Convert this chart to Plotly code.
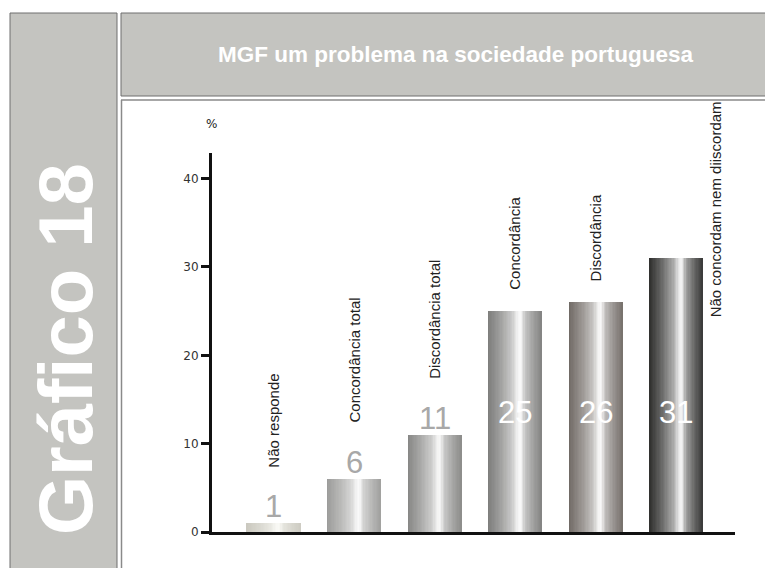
import numpy as np
import plotly.graph_objects as go

# ---- data ----
categories = ["Não responde", "Concordância total", "Discordância total",
              "Concordância", "Discordância", "Não concordam nem diiscordam"]
values = [1, 6, 11, 25, 26, 31]
y_ticks = [0, 10, 20, 30, 40]
title_text = "MGF um problema na sociedade portuguesa"
side_text = "Gráfico 18"

# ---- style ----
OFF = 8  # page body margin
W, H = 773 - OFF, 568 - OFF
L, R, T, B = 212, 735, 153, 532  # plot area in reference pixels
FONT = "Liberation Sans, Arial, sans-serif"
TICKFONT = "DejaVu Sans, Verdana, sans-serif"
edge_cols = [(200, 198, 188), (150, 150, 148), (128, 128, 126),
             (118, 118, 116), (104, 97, 92), (36, 36, 34)]
hi_cols = [(250, 250, 246), (250, 250, 250), (248, 248, 248),
           (250, 250, 250), (250, 250, 250), (245, 245, 245)]
tp = [0.0, 0.25, 0.45, 0.55, 0.6, 0.68, 0.85, 1.0]
gp = [0.05, 0.35, 0.65, 0.95, 1.0, 0.6, 0.3, 0.1]
bw = 0.67
N = 40


def px_x(px):
    return (px - L) / (R - L)


def px_y(py):
    return (B - py) / (B - T)


fig = go.Figure()
x_idx = list(range(len(categories)))
for k in range(N):
    t = (k + 0.5) / N
    g = float(np.interp(t, tp, gp))
    cols = []
    for e, h in zip(edge_cols, hi_cols):
        c = [int(round(e[i] + (h[i] - e[i]) * g)) for i in range(3)]
        cols.append(f"rgb({c[0]},{c[1]},{c[2]})")
    off = -bw / 2 + k * bw / N
    wid = min(bw / N * 1.6, bw / 2 - off)
    fig.add_trace(go.Bar(x=x_idx, y=values, width=wid, offset=off,
                         marker=dict(color=cols, line=dict(width=0)),
                         hoverinfo="skip", showlegend=False))

annotations = []
# value labels
for i, v in enumerate(values):
    if v >= 20:
        annotations.append(dict(x=i, y=13.5, xref="x", yref="y", text=str(v),
                                showarrow=False, yanchor="middle", xanchor="center",
                                font=dict(family=FONT, size=31, color="white")))
    else:
        annotations.append(dict(x=i, y=v, xref="x", yref="y", text=str(v),
                                showarrow=False, yanchor="bottom", xanchor="center",
                                yshift=-3,
                                font=dict(family=FONT, size=31, color="#a8a8a8")))
# category labels
for i, (c, v) in enumerate(zip(categories, values)):
    if i == len(categories) - 1:
        annotations.append(dict(x=i, y=v, xref="x", yref="y", text=c,
                                showarrow=False, textangle=-90, xshift=39,
                                xanchor="center", yanchor="top", yshift=159,
                                font=dict(family=FONT, size=15, color="#222")))
    else:
        ys = 54 if v < 20 else 19
        annotations.append(dict(x=i, y=v, xref="x", yref="y", text=c,
                                showarrow=False, textangle=-90, xanchor="center",
                                yanchor="bottom", yshift=ys,
                                font=dict(family=FONT, size=15, color="#222")))
# % label
annotations.append(dict(x=px_x(211), y=px_y(124), xref="paper", yref="paper",
                        text="%", showarrow=False, xanchor="center", yanchor="middle",
                        font=dict(family=TICKFONT, size=12, color="#222")))
# title
annotations.append(dict(x=px_x(456), y=px_y(55), xref="paper", yref="paper",
                        text=f"<b>{title_text}</b>", showarrow=False,
                        xanchor="center", yanchor="middle",
                        font=dict(family=FONT, size=22.5, color="white")))
# side title
annotations.append(dict(x=px_x(65), y=px_y(349), xref="paper", yref="paper",
                        text=f"<b>{side_text}</b>", showarrow=False, textangle=-90,
                        xanchor="center", yanchor="middle",
                        font=dict(family=FONT, size=76, color="white")))

shapes = [
    # left panel
    dict(type="rect", xref="paper", yref="paper", x0=px_x(10), x1=px_x(117),
         y0=px_y(13), y1=px_y(580), fillcolor="#c4c4c0",
         line=dict(color="#6e6e6e", width=1), layer="below"),
    # title band
    dict(type="rect", xref="paper", yref="paper", x0=px_x(121), x1=px_x(790),
         y0=px_y(13), y1=px_y(96), fillcolor="#c4c4c0",
         line=dict(color="#6e6e6e", width=1), layer="below"),
    # content frame lines
    dict(type="line", xref="paper", yref="paper", x0=px_x(121), x1=px_x(790),
         y0=px_y(100), y1=px_y(100), line=dict(color="#8a8a8a", width=1.5)),
    dict(type="line", xref="paper", yref="paper", x0=px_x(121.5), x1=px_x(121.5),
         y0=px_y(100), y1=px_y(580), line=dict(color="#8a8a8a", width=1.5)),
]

fig.update_layout(
    width=W, height=H,
    margin=dict(l=L - OFF, r=(W + OFF) - R, t=T - OFF, b=(H + OFF) - B, pad=0),
    paper_bgcolor="white", plot_bgcolor="white",
    barmode="overlay", bargap=0,
    showlegend=False,
    annotations=annotations, shapes=shapes,
    xaxis=dict(range=[-0.763, 5.73], showticklabels=False, ticks="",
               showgrid=False, zeroline=False, showline=True,
               linecolor="#111", linewidth=3, fixedrange=True),
    yaxis=dict(range=[0, 42.9], tickvals=y_ticks, ticks="outside", ticklen=8,
               tickwidth=3, tickcolor="#111", showgrid=False, zeroline=False,
               showline=True, linecolor="#111", linewidth=3,
               tickfont=dict(family=TICKFONT, size=12, color="#333"),
               fixedrange=True),
)

fig.write_html("out.html")
